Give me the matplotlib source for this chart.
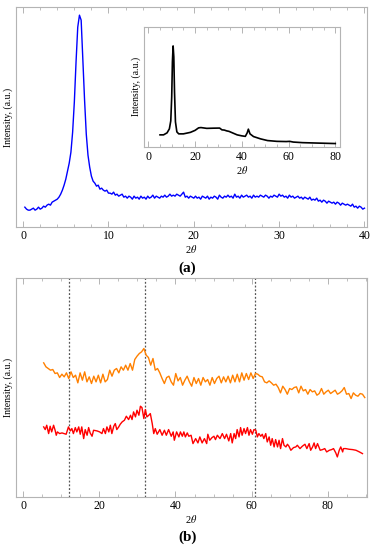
import numpy as np
import matplotlib.pyplot as plt
from matplotlib.ticker import MultipleLocator

plt.rcParams['font.family'] = ['Liberation Serif', 'DejaVu Serif']
plt.rcParams['mathtext.fontset'] = 'stix'

# (a) main pattern, 2theta = 0.2 ... 40 in 0.2 steps (one row = 2 degrees)
blue_y = [
    20, 18, 17, 17, 18, 19, 17, 18, 20, 18,
    19, 21, 20, 22, 23, 22, 25, 26, 27, 28,
    30, 33, 37, 42, 48, 56, 64, 75, 95, 125,
    165, 200, 212, 207, 167, 127, 93, 72, 60, 51,
    46, 44, 41, 42, 38, 39, 37, 36, 37, 34,
    34, 33, 35, 32, 33, 31, 32, 33, 30, 31,
    29, 31, 30, 28, 31, 29, 30, 28, 31, 29,
    30, 28, 31, 29, 30, 32, 29, 31, 30, 29,
    31, 30, 32, 30, 31, 33, 31, 32, 31, 33,
    32, 31, 33, 35, 30, 31, 29, 31, 30, 29,
    31, 29, 30, 28, 31, 30, 29, 31, 28, 30,
    29, 31, 30, 28, 32, 30, 29, 31, 30, 32,
    30, 31, 29, 33, 30, 31, 29, 32, 30, 31,
    32, 30, 31, 29, 32, 30, 31, 30, 32, 31,
    30, 32, 31, 29, 31, 30, 32, 31, 30, 33,
    31, 32, 30, 31, 29, 32, 30, 31, 29, 30,
    31, 29, 30, 28, 30, 29, 28, 30, 27, 28,
    27, 29, 26, 27, 25, 27, 26, 24, 26, 25,
    24, 25, 23, 25, 24, 22, 24, 23, 22, 23,
    22, 21, 23, 20, 21, 19, 21, 20, 18, 19,
]
blue_x = np.linspace(0.2, 40, len(blue_y))

# (a) inset, wide range pattern
inset_x = [5.0, 6.5, 8.0, 9.0, 9.6, 10.0, 10.3, 10.6, 10.9, 11.2, 11.6, 12.2,
           13.0, 15.0, 18.0, 20.0, 21.5, 22.5, 25.0, 28.0, 30.5, 31.5, 32.5,
           33.5, 34.5, 36.0, 38.0, 40.0, 41.5, 42.3, 42.8, 43.5, 45.0, 48.0,
           51.0, 55.0, 59.0, 60.5, 62.0, 66.0, 72.0, 80.0]
inset_y = [12, 12, 14, 18, 26, 50, 85, 101, 90, 55, 25, 15,
           13, 13, 14.5, 16.5, 19, 19.3, 18.5, 18.7, 18.8, 17, 16.8,
           16, 15.5, 14, 12, 11, 10.5, 14, 17.7, 13, 10.3, 8,
           6.3, 5.5, 5.3, 5.5, 4.8, 4.2, 3.8, 3.3]

# (b) upper (orange) pattern
orange_y = [
    402, 390, 385, 380, 382, 370, 372, 358, 368, 360,
    372, 355, 375, 358, 365, 342, 372, 350, 375, 345,
    360, 340, 362, 345, 365, 342, 368, 345, 352, 380,
    362, 380, 385, 372, 390, 380, 395, 380, 400, 380,
    412, 422, 430, 435, 445, 425, 418, 395, 415, 380,
    385, 372, 355, 340, 358, 362, 345, 335, 370, 348,
    358, 335, 350, 362, 345, 332, 358, 340, 355, 335,
    358, 345, 352, 335, 358, 340, 355, 362, 342, 360,
    345, 362, 342, 365, 345, 368, 345, 372, 350, 370,
    352, 372, 355, 370, 368, 362, 360, 345, 342, 348,
    342, 335, 338, 328, 312, 332, 322, 308, 325, 322,
    328, 330, 312, 332, 318, 322, 308, 322, 315, 318,
    305, 310, 325, 308, 315, 320, 310, 315, 320, 308,
    312, 318, 328, 308, 310, 295, 312, 305, 302, 310,
    308, 298,
]
orange_x = np.linspace(5.4, 89.7, len(orange_y))

# (b) lower (red) pattern
red_x = [
    5.4, 5.8, 6.2, 6.7, 7.1, 7.5, 8.0, 8.4, 8.7, 9.0,
    9.6, 10.2, 10.8, 11.3, 11.9, 12.4, 12.8, 13.2, 13.7, 14.1,
    14.6, 15.0, 15.4, 15.9, 16.3, 16.8, 17.2, 17.6, 18.1, 18.5,
    19.4, 20.1, 20.7, 21.1, 21.6, 22.0, 22.5, 22.9, 23.3, 23.8,
    24.2, 24.6, 25.1, 25.5, 26.0, 26.6, 27.1, 27.7, 28.2, 28.6,
    29.0, 29.5, 29.9, 30.4, 30.8, 31.2, 31.7, 32.1, 32.5, 33.0,
    33.4, 33.9, 34.3, 34.7, 35.2, 35.9, 36.5, 37.1, 37.6, 38.2,
    38.9, 39.4, 39.7, 40.3, 40.9, 41.3, 41.8, 42.2, 42.6, 43.1,
    43.5, 44.1, 44.6, 45.3, 45.9, 46.4, 47.0, 47.6, 48.2, 48.5,
    49.0, 49.6, 50.1, 50.5, 51.0, 51.7, 52.3, 52.9, 53.4, 54.0,
    54.5, 54.9, 55.4, 55.8, 56.2, 56.7, 57.1, 57.5, 58.0, 58.4,
    58.9, 59.3, 59.7, 60.2, 60.6, 61.1, 61.5, 61.9, 62.4, 62.8,
    63.2, 63.7, 64.1, 64.6, 65.0, 65.4, 65.9, 66.3, 66.8, 67.2,
    67.6, 68.1, 68.5, 69.0, 69.4, 69.8, 70.3, 71.0, 71.6, 72.0,
    72.7, 73.3, 74.0, 74.5, 75.1, 75.5, 76.0, 76.4, 76.8, 77.3,
    78.0, 78.6, 79.2, 79.7, 80.4, 81.0, 81.5, 82.1, 82.5, 83.0,
    83.4, 83.9, 84.1, 84.7, 85.6, 86.5, 87.4, 88.3, 89.1,
]
red_y = [
    210, 202, 215, 190, 212, 195, 215, 200, 185, 195,
    190, 192, 190, 188, 210, 198, 205, 190, 208, 195,
    210, 188, 210, 175, 202, 185, 208, 192, 182, 200,
    198, 195, 190, 205, 190, 210, 195, 215, 190, 212,
    220, 202, 210, 218, 225, 230, 242, 232, 245, 232,
    255, 240, 260, 245, 272, 268, 235, 262, 240, 245,
    250, 220, 190, 205, 188, 202, 185, 200, 185, 202,
    182, 195, 170, 195, 180, 195, 182, 195, 180, 192,
    182, 185, 160, 175, 162, 180, 162, 175, 160, 188,
    170, 178, 182, 172, 185, 175, 190, 175, 188, 168,
    190, 162, 190, 175, 202, 180, 208, 185, 205, 190,
    208, 185, 202, 188, 202, 200, 180, 190, 182, 188,
    175, 190, 165, 180, 155, 175, 150, 172, 150, 170,
    145, 175, 155, 150, 158, 152, 140, 148, 150, 155,
    145, 152, 158, 145, 160, 140, 150, 162, 145, 160,
    140, 142, 145, 135, 140, 142, 145, 132, 120, 140,
    150, 135, 145, 145, 143, 142, 140, 135, 130,
]

guide_x = [12, 32, 61]

FRAME = '#b4b4b4'


def frame(ax, major, minor, pad):
    for s in ax.spines.values():
        s.set_color(FRAME)
        s.set_linewidth(0.8)
    ax.xaxis.set_major_locator(MultipleLocator(major))
    ax.xaxis.set_minor_locator(MultipleLocator(minor))
    ax.tick_params(axis='x', which='both', direction='in', top=True,
                   color=FRAME, labelsize=8.5, pad=pad)
    ax.tick_params(axis='x', which='major', length=4, width=0.7)
    ax.tick_params(axis='x', which='minor', length=2, width=0.6)
    ax.set_yticks([])


fig = plt.figure(figsize=(3.78, 5.5), dpi=100)

ax1 = fig.add_axes([0.042, 0.587, 0.929, 0.400])
ax1.plot(blue_x, blue_y, color='#0000ff', lw=1.0)
ax1.set_xlim(-0.85, 40.3)
ax1.set_ylim(0, 220)
frame(ax1, 10, 2, 2)
ax1.set_xlabel(r'2$\theta$', fontsize=7.5, labelpad=1)
ax1.set_ylabel('Intensity, (a.u.)', fontsize=7, labelpad=2)

ins = fig.add_axes([0.381, 0.733, 0.519, 0.218])
ins.plot(inset_x, inset_y, color='black', lw=1.2)
ins.set_xlim(-1.85, 82.1)
ins.set_ylim(0, 120)
frame(ins, 20, 5, 3)
ins.set_xlabel(r'2$\theta$', fontsize=7.5, labelpad=1)
ins.set_ylabel('Intensity, (a.u.)', fontsize=7, labelpad=2)

ax2 = fig.add_axes([0.042, 0.0964, 0.929, 0.398])
for gx in guide_x:
    ax2.axvline(gx, color='#555555', lw=0.9, ls=(0, (1.5, 1.5)))
ax2.plot(orange_x, orange_y, color='#ff8000', lw=1.0)
ax2.plot(red_x, red_y, color='#ff0000', lw=1.0)
ax2.set_xlim(-1.9, 90.3)
ax2.set_ylim(0, 656)
frame(ax2, 20, 5, 2)
ax2.set_xlabel(r'2$\theta$', fontsize=7.5, labelpad=1)
ax2.set_ylabel('Intensity, (a.u.)', fontsize=7, labelpad=2)

fig.text(0.495, 1 - 268 / 550, '(a)', ha='center', va='center',
         fontsize=11, fontweight='bold')
fig.text(0.495, 1 - 537 / 550, '(b)', ha='center', va='center',
         fontsize=11, fontweight='bold')

fig.savefig('out.png', dpi=100)
